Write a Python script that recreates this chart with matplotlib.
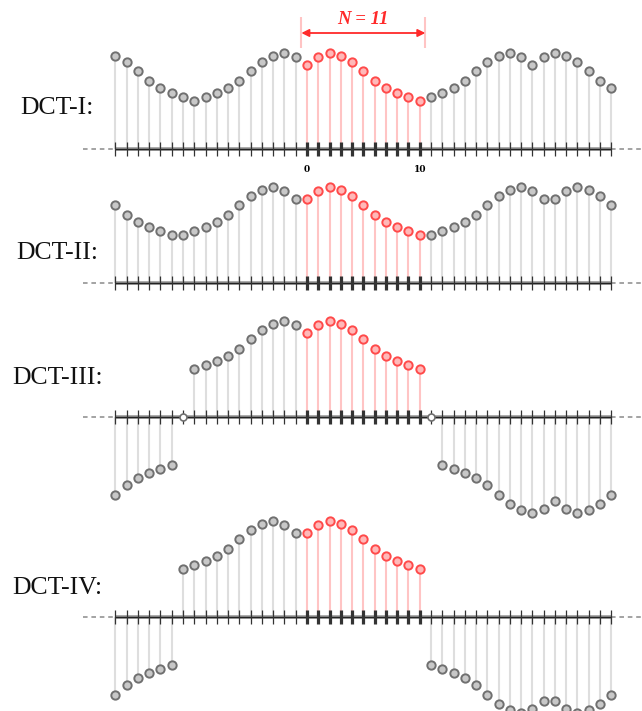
import matplotlib.pyplot as plt
import numpy as np

# x[0..N-1], heights (pixels above the axis)
samples = [84, 92, 96, 93, 87, 78, 68, 61, 56, 52, 48]
N = len(samples)
n_first, n_last = -17, 27
row_names = ["DCT-I:", "DCT-II:", "DCT-III:", "DCT-IV:"]
tick_labels = {0: "0", 10: "10"}
n_label = "N = 11"

# layout (pixels of the 642x711 picture)
X0, DX = 307.0, 11.27
baselines = [148.5, 283.0, 416.7, 616.7]
label_pos = [(20, 108), (16, 253), (12, 378), (12, 588)]

GRAY_STEM = "#dedede"
GRAY_EDGE = "#707070"
GRAY_FACE = "#c8c8c8"
RED_STEM = "#ffc4c4"
RED_EDGE = "#ff4a4a"
RED_FACE = "#ffb8b8"


def extended(kind, n):
    # symmetric extension of the samples for DCT type 1..4
    x = samples
    if kind == 1:
        m = n % (2 * N - 2)
        if m > N - 1:
            m = 2 * N - 2 - m
        return x[m]
    if kind == 2:
        m = n % (2 * N)
        if m > N - 1:
            m = 2 * N - 1 - m
        return x[m]
    if kind == 3:
        m = n % (4 * N)
        if m > 2 * N:
            m = 4 * N - m
        if m == N:
            return 0
        if m > N:
            return -x[2 * N - m]
        return x[m]
    m = n % (4 * N)
    if m >= 2 * N:
        m = 4 * N - 1 - m
    if m >= N:
        return -x[2 * N - 1 - m]
    return x[m]


fig = plt.figure(figsize=(6.42, 7.11), dpi=100)
xlim = (-X0 / DX, (642 - X0) / DX)

for k, base in enumerate(baselines):
    kind = k + 1
    ax = fig.add_axes([0, 0, 1, 1])
    ax.set_xlim(*xlim)
    ax.set_ylim(base - 711, base)
    ax.axis("off")
    ax.patch.set_alpha(0)

    n = np.arange(n_first, n_last + 1)
    v = np.array([extended(kind, i) for i in n])
    red = (n >= 0) & (n <= N - 1)
    zero = v == 0

    # stems
    ax.vlines(n[~red & ~zero], 0, v[~red & ~zero], color=GRAY_STEM, lw=1.5, zorder=1)
    ax.vlines(n[red], 0, v[red], color=RED_STEM, lw=1.5, zorder=1)

    # axis with dashed continuation
    ax.hlines(0, n_first, n_last, color="#9a9a9a", lw=2.6, zorder=2)
    ax.hlines(0, n_first, n_last, color="#222222", lw=1.0, zorder=2)
    ax.plot([xlim[0] + 7.4, n_first], [0, 0], ls=(0, (3, 2.5)), color="#8a8a8a", lw=1.1)
    ax.plot([n_last, xlim[1]], [0, 0], ls=(0, (3, 2.5)), color="#8a8a8a", lw=1.1)

    # ticks
    ax.vlines(n[~red], -7, 7, color="#333333", lw=0.9, zorder=3)
    ax.vlines(n[red], -7, 7, color="#333333", lw=2.3, zorder=3)

    # samples
    ax.plot(n[~red & ~zero], v[~red & ~zero], "o", ms=6, mfc=GRAY_FACE,
            mec=GRAY_EDGE, mew=1.4, zorder=4)
    ax.plot(n[red], v[red], "o", ms=6, mfc=RED_FACE, mec=RED_EDGE,
            mew=1.4, zorder=4)
    if zero.any():
        ax.plot(n[zero], v[zero], "o", ms=5, mfc="white", mec=GRAY_EDGE,
                mew=1.2, zorder=5)

    lx, ly = label_pos[k]
    ax.text((lx - X0) / DX, base - ly, row_names[k], ha="left", va="center",
            fontsize=18.5, family="Liberation Serif", color="#111111")

    if kind == 1:
        for pos, txt in tick_labels.items():
            ax.text(pos, -21, txt, ha="center", va="center", fontsize=6.5,
                    fontweight="bold", family="DejaVu Serif")
        # N = 11 bracket
        for edge in (-0.5, N - 0.5):
            ax.vlines(edge, base - 48, base - 17, color=RED_STEM, lw=1.5)
        ax.annotate("", xy=(-0.5, base - 33), xytext=(N - 0.5, base - 33),
                    arrowprops=dict(arrowstyle="<|-|>", color="#ff2a2a", lw=1.3,
                                    mutation_scale=11, shrinkA=0, shrinkB=0))
        ax.text((N - 1) / 2, base - 20, n_label, ha="center", va="center",
                fontsize=13.5, style="italic", fontweight="bold",
                family="Liberation Serif", color="#ff2a2a")

fig.savefig("out.png", dpi=100, facecolor="white")
